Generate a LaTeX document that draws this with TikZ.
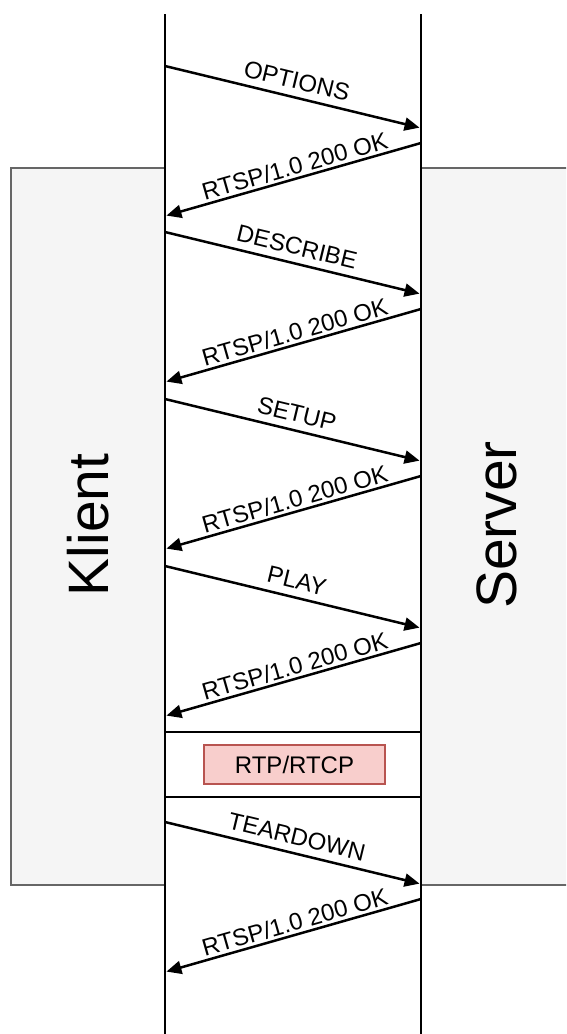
\documentclass[tikz,border=0pt]{standalone}
\usepackage{fontspec}
\setmainfont{Liberation Sans}
\usetikzlibrary{arrows.meta}
\definecolor{panelfill}{HTML}{F5F5F5}
\definecolor{panelline}{HTML}{666666}
\definecolor{rtpfill}{HTML}{F8CECC}
\definecolor{rtpline}{HTML}{B85450}
\tikzset{
  panel/.style={draw=panelline, fill=panelfill, line width=2.5pt, inner sep=0, minimum width=#1, minimum height=717pt},
  bigtext/.style={rotate=90, font=\fontsize{57}{60}\selectfont, inner sep=0},
  life/.style={line width=2.8pt, black},
  msg/.style={line width=2.5pt, black, -{Triangle[length=15pt,width=13pt]}, shorten >=1.5pt},
  reqlabel/.style={midway, sloped, above=7pt, inner sep=0, font=\fontsize{24}{26}\selectfont},
  reslabel/.style={pos=0.48, sloped, above=2.5pt, inner sep=0, font=\fontsize{24}{26}\selectfont},
  rtpbox/.style={draw=rtpline, fill=rtpfill, line width=1.5pt, minimum width=181pt, minimum height=39pt, inner sep=0, font=\fontsize{24}{26}\selectfont}
}
\begin{document}
\begin{tikzpicture}[x=1pt,y=-1pt]
\useasboundingbox (0,0) rectangle (566,1034);
\clip (0,0) rectangle (566,1034);
% panels
\node[panel=154pt] (kbox) at (88,526.5) {};
\node[panel=154pt] (sbox) at (498,526.5) {};
\node[bigtext] (klient) at (88,525) {Klient};
\node[bigtext] (server) at (497,525) {Server};
% lifelines
\coordinate (ktop) at (165,14);
\coordinate (kbot) at (165,1034);
\coordinate (stop) at (421,14);
\coordinate (sbot) at (421,1034);
\draw[life] (ktop) -- (kbot);
\draw[life] (stop) -- (sbot);
% message points
\coordinate (k1) at (165,66);  \coordinate (s1) at (421,128);
\coordinate (s2) at (421,143); \coordinate (k2) at (165,216);
\coordinate (k3) at (165,232); \coordinate (s3) at (421,294);
\coordinate (s4) at (421,309); \coordinate (k4) at (165,382);
\coordinate (k5) at (165,399); \coordinate (s5) at (421,461);
\coordinate (s6) at (421,476); \coordinate (k6) at (165,549);
\coordinate (k7) at (165,566); \coordinate (s7) at (421,628);
\coordinate (s8) at (421,643); \coordinate (k8) at (165,716);
\coordinate (k9) at (165,822); \coordinate (s9) at (421,884);
\coordinate (s10) at (421,899); \coordinate (k10) at (165,972);
\draw[msg] (k1) -- (s1) node[reqlabel] {OPTIONS};
\draw[msg] (s2) -- (k2) node[reslabel] {RTSP/1.0 200 OK};
\draw[msg] (k3) -- (s3) node[reqlabel] {DESCRIBE};
\draw[msg] (s4) -- (k4) node[reslabel] {RTSP/1.0 200 OK};
\draw[msg] (k5) -- (s5) node[reqlabel] {SETUP};
\draw[msg] (s6) -- (k6) node[reslabel] {RTSP/1.0 200 OK};
\draw[msg] (k7) -- (s7) node[reqlabel] {PLAY};
\draw[msg] (s8) -- (k8) node[reslabel] {RTSP/1.0 200 OK};
% RTP section
\coordinate (ka) at (165,732); \coordinate (sa) at (421,732);
\coordinate (kb) at (165,797); \coordinate (sb) at (421,797);
\draw[life] (ka) -- (sa);
\draw[life] (kb) -- (sb);
\node[rtpbox] (rtp) at (294.5,764.5) {RTP/RTCP};
\draw[msg] (k9) -- (s9) node[reqlabel] {TEARDOWN};
\draw[msg] (s10) -- (k10) node[reslabel] {RTSP/1.0 200 OK};
\end{tikzpicture}
\end{document}
